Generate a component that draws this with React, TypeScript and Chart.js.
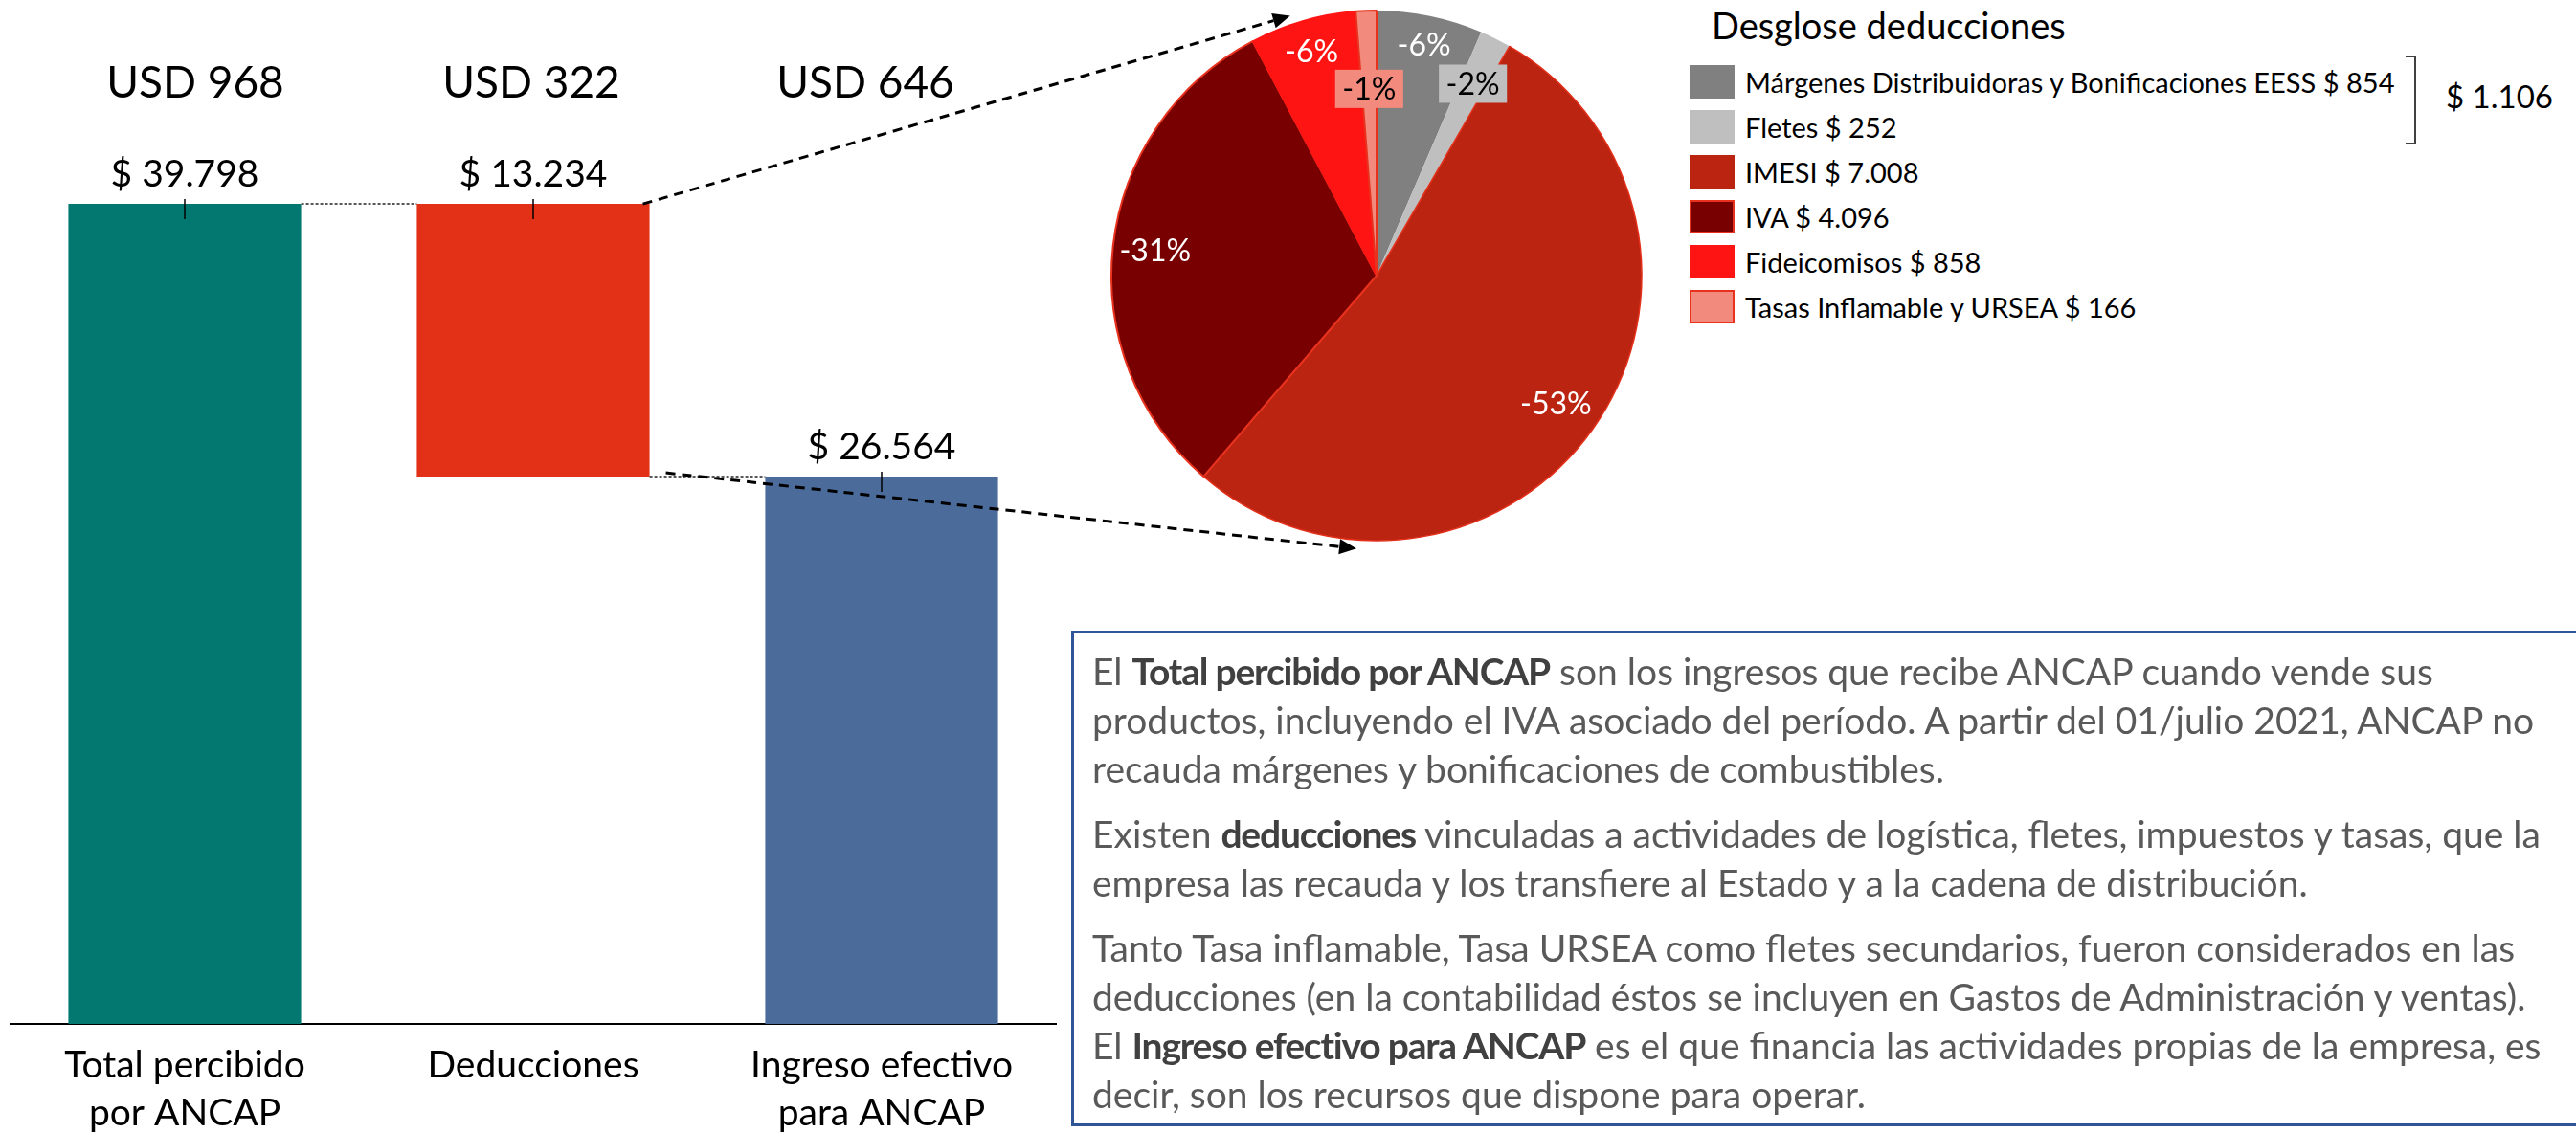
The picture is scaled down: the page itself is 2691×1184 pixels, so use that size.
import React, { useEffect, useRef } from 'react';
import { Chart, registerables } from 'chart.js';

Chart.register(...registerables);

// ---------------- data ----------------
const categories: string[][] = [['Total percibido', 'por ANCAP'], ['Deducciones'], ['Ingreso efectivo', 'para ANCAP']];
const barStarts = [0, 26564, 0];
const barEnds = [39798, 39798, 26564];
const usdLabels = ['USD 968', 'USD 322', 'USD 646'];
const barColors = ['#037870', '#E33118', '#4B6B9B'];

const pieLabels = [
  'Márgenes Distribuidoras y Bonificaciones EESS',
  'Fletes',
  'IMESI',
  'IVA',
  'Fideicomisos',
  'Tasas Inflamable y URSEA',
];
const pieValues = [854, 252, 7008, 4096, 858, 166];
const pieColors = ['#808080', '#BFBFBF', '#BC2412', '#780000', '#FF1414', '#F28B7D'];
const pieBorderColors = ['#808080', '#BFBFBF', '#E3301A', '#E8321E', '#FF1414', '#E8321E'];
const pieBorderWidths = [0, 0, 1.5, 2, 1.5, 2];
const bracketGroup = [0, 1]; // legend items summed by the bracket

const legendTitle = 'Desglose deducciones';

// ---------------- layout / style constants ----------------
const FONT = 'Lato, "Open Sans", sans-serif';
const PIE_CX = 1438;
const PIE_CY = 288;
const PIE_R = 277;
const PIE_LABEL_RADIUS = [0.89, 0.81, 0.83, 0.84, 0.88, 0.705];
const PIE_LABEL_BOX = [false, true, false, false, false, true];
const USD_DX = [11, -2, -17];

const fmt = (v: number) => String(v).replace(/\B(?=(\d{3})+(?!\d))/g, '.');

function drawArrow(c: CanvasRenderingContext2D, x1: number, y1: number, x2: number, y2: number) {
  const ang = Math.atan2(y2 - y1, x2 - x1);
  const len = 18;
  const hw = 8;
  const bx = x2 - len * Math.cos(ang);
  const by = y2 - len * Math.sin(ang);
  c.save();
  c.strokeStyle = '#000';
  c.lineWidth = 3;
  c.setLineDash([10, 7]);
  c.beginPath();
  c.moveTo(x1, y1);
  c.lineTo(bx, by);
  c.stroke();
  c.setLineDash([]);
  c.fillStyle = '#000';
  c.beginPath();
  c.moveTo(x2, y2);
  c.lineTo(bx + hw * Math.sin(ang), by - hw * Math.cos(ang));
  c.lineTo(bx - hw * Math.sin(ang), by + hw * Math.cos(ang));
  c.closePath();
  c.fill();
  c.restore();
}

function BarChart() {
  const ref = useRef<HTMLCanvasElement>(null);
  useEffect(() => {
    const decor = {
      id: 'waterfallDecor',
      afterDatasetsDraw(chart: any) {
        const c: CanvasRenderingContext2D = chart.ctx;
        const meta = chart.getDatasetMeta(0);
        const yScale = chart.scales.y;
        const bars = meta.data;
        c.save();
        // dotted connectors
        c.strokeStyle = '#222';
        c.lineWidth = 1.5;
        c.setLineDash([3, 2]);
        for (let i = 0; i < bars.length - 1; i++) {
          const a = bars[i];
          const b = bars[i + 1];
          const next = [barStarts[i + 1], barEnds[i + 1]];
          const level = [barEnds[i], barStarts[i]].find((v) => next.includes(v));
          if (level === undefined) continue;
          const y = yScale.getPixelForValue(level);
          c.beginPath();
          c.moveTo(a.x + a.width / 2, y);
          c.lineTo(b.x - b.width / 2, y);
          c.stroke();
        }
        c.setLineDash([]);
        bars.forEach((bar: any, i: number) => {
          const top = yScale.getPixelForValue(barEnds[i]);
          c.strokeStyle = '#000';
          c.lineWidth = 1.5;
          c.beginPath();
          c.moveTo(bar.x, top - 5);
          c.lineTo(bar.x, top + 16);
          c.stroke();
          c.fillStyle = '#000';
          c.textAlign = 'center';
          c.textBaseline = 'middle';
          c.font = `39px ${FONT}`;
          c.fillText('$ ' + fmt(barEnds[i] - barStarts[i]), bar.x, top - 31);
          c.font = `46px ${FONT}`;
          c.fillText(usdLabels[i], bar.x + USD_DX[i], 87);
        });
        // arrows from the deductions bar to the pie
        const red = bars[1];
        const right = red.x + red.width / 2;
        const a1 = (-108.4 * Math.PI) / 180;
        const a2 = (94.2 * Math.PI) / 180;
        const rr = PIE_R + 9;
        drawArrow(c, right - 7, red.y, PIE_CX + rr * Math.cos(a1), PIE_CY + rr * Math.sin(a1));
        drawArrow(c, right + 17, red.base - 4, PIE_CX + rr * Math.cos(a2), PIE_CY + rr * Math.sin(a2));
        c.restore();
      },
    };
    const chart = new Chart(ref.current!, {
      type: 'bar',
      data: {
        labels: categories,
        datasets: [
          {
            data: barStarts.map((s, i) => [s, barEnds[i]]),
            backgroundColor: barColors,
            barPercentage: 0.668,
            categoryPercentage: 1,
          },
        ],
      },
      options: {
        animation: false,
        responsive: false,
        maintainAspectRatio: false,
        layout: { padding: { left: 11, right: 337, top: 15, bottom: 0 } },
        plugins: { legend: { display: false }, tooltip: { enabled: false } },
        scales: {
          x: {
            grid: { display: false, drawTicks: false },
            border: { display: true, color: '#000', width: 2 },
            ticks: { color: '#000', font: { family: FONT, size: 39, lineHeight: 1.282 }, padding: 18, maxRotation: 0 },
            afterFit: (s: any) => {
              s.height = 114;
            },
          },
          y: { display: false, min: 0, max: 49000 },
        },
      } as any,
      plugins: [decor],
    });
    return () => chart.destroy();
  }, []);
  return (
    <canvas
      ref={ref}
      width={1440}
      height={1184}
      style={{ position: 'absolute', left: 0, top: 0, width: 1440, height: 1184 }}
    />
  );
}

function PieChart() {
  const ref = useRef<HTMLCanvasElement>(null);
  useEffect(() => {
    const total = pieValues.reduce((a, b) => a + b, 0);
    const labelsPlugin = {
      id: 'pieLabels',
      afterDatasetsDraw(chart: any) {
        const c: CanvasRenderingContext2D = chart.ctx;
        const meta = chart.getDatasetMeta(0);
        c.save();
        c.font = `32px ${FONT}`;
        c.textAlign = 'center';
        c.textBaseline = 'middle';
        meta.data.forEach((arc: any, i: number) => {
          const p = arc.getProps(['x', 'y', 'startAngle', 'endAngle', 'outerRadius'], true);
          const mid = (p.startAngle + p.endAngle) / 2;
          const r = p.outerRadius * PIE_LABEL_RADIUS[i];
          const lx = p.x + r * Math.cos(mid);
          const ly = p.y + r * Math.sin(mid);
          const text = '-' + Math.round((pieValues[i] / total) * 100) + '%';
          if (PIE_LABEL_BOX[i]) {
            const w = c.measureText(text).width + 15;
            c.fillStyle = pieColors[i];
            c.fillRect(lx - w / 2, ly - 20, w, 40);
            c.fillStyle = '#000';
          } else {
            c.fillStyle = '#fff';
          }
          c.fillText(text, lx, ly + 1);
        });
        c.restore();
      },
    };
    const chart = new Chart(ref.current!, {
      type: 'pie',
      data: {
        labels: pieLabels,
        datasets: [
          {
            data: pieValues,
            backgroundColor: pieColors,
            borderColor: pieBorderColors,
            borderWidth: pieBorderWidths,
          },
        ],
      },
      options: {
        animation: false,
        responsive: false,
        maintainAspectRatio: false,
        radius: PIE_R,
        layout: { padding: 0 },
        plugins: { legend: { display: false }, tooltip: { enabled: false } },
      } as any,
      plugins: [labelsPlugin],
    });
    return () => chart.destroy();
  }, []);
  return (
    <canvas
      ref={ref}
      width={600}
      height={580}
      style={{ position: 'absolute', left: PIE_CX - 300, top: PIE_CY - 290, width: 600, height: 580 }}
    />
  );
}

function Legend() {
  const groupSum = bracketGroup.reduce((a, i) => a + pieValues[i], 0);
  return (
    <>
      <div
        style={{ position: 'absolute', left: 1788, top: 4, font: `38px ${FONT}`, lineHeight: '44px', color: '#000', whiteSpace: 'nowrap' }}
      >
        {legendTitle}
      </div>
      {pieLabels.map((l, i) => (
        <div
          key={i}
          style={{ position: 'absolute', left: 1765, top: 68 + i * 46.9, height: 35, display: 'flex', alignItems: 'center' }}
        >
          <div
            style={{
              width: 47,
              height: 35,
              boxSizing: 'border-box',
              background: pieColors[i],
              border: pieBorderWidths[i] >= 2 ? `2px solid ${pieBorderColors[i]}` : 'none',
            }}
          />
          <span style={{ marginLeft: 11, font: `29px ${FONT}`, lineHeight: '35px', color: '#000', whiteSpace: 'nowrap' }}>
            {l} $ {fmt(pieValues[i])}
          </span>
        </div>
      ))}
      <div
        style={{
          position: 'absolute',
          left: 2513,
          top: 58,
          width: 11,
          height: 93,
          boxSizing: 'border-box',
          borderTop: '2px solid #404040',
          borderRight: '2px solid #404040',
          borderBottom: '2px solid #404040',
        }}
      />
      <div style={{ position: 'absolute', left: 2555, top: 78, font: `33px ${FONT}`, lineHeight: '44px', color: '#000', whiteSpace: 'nowrap' }}>
        $ {fmt(groupSum)}
      </div>
    </>
  );
}

function TextBox() {
  const B = (t: string) => <b style={{ color: '#404040', fontWeight: 700, letterSpacing: '-1.2px' }}>{t}</b>;
  const p: React.CSSProperties = { margin: 0, marginBottom: 17 };
  return (
    <div
      style={{
        position: 'absolute',
        left: 1119,
        top: 659,
        width: 2691 - 1119,
        height: 518,
        boxSizing: 'border-box',
        borderTop: '3px solid #2F5597',
        borderLeft: '3px solid #2F5597',
        borderBottom: '3px solid #2F5597',
        padding: '14px 0 0 19px',
        font: `39px ${FONT}`,
        lineHeight: '51px',
        color: '#595959',
        whiteSpace: 'nowrap',
      }}
    >
      <p style={p}>
        El {B('Total percibido por ANCAP')} son los ingresos que recibe ANCAP cuando vende sus
        <br />
        productos, incluyendo el IVA asociado del período. A partir del 01/julio 2021, ANCAP no
        <br />
        recauda márgenes y bonificaciones de combustibles.
      </p>
      <p style={p}>
        Existen {B('deducciones')} vinculadas a actividades de logística, fletes, impuestos y tasas, que la
        <br />
        empresa las recauda y los transfiere al Estado y a la cadena de distribución.
      </p>
      <p style={p}>
        Tanto Tasa inflamable, Tasa URSEA como fletes secundarios, fueron considerados en las
        <br />
        deducciones (en la contabilidad éstos se incluyen en Gastos de Administración y ventas).
        <br />
        El {B('Ingreso efectivo para ANCAP')} es el que financia las actividades propias de la empresa, es
        <br />
        decir, son los recursos que dispone para operar.
      </p>
    </div>
  );
}

export default function App() {
  return (
    <div style={{ position: 'absolute', left: 0, top: 0, width: 2691, height: 1184, overflow: 'hidden', background: '#fff' }}>
      <BarChart />
      <PieChart />
      <Legend />
      <TextBox />
    </div>
  );
}
